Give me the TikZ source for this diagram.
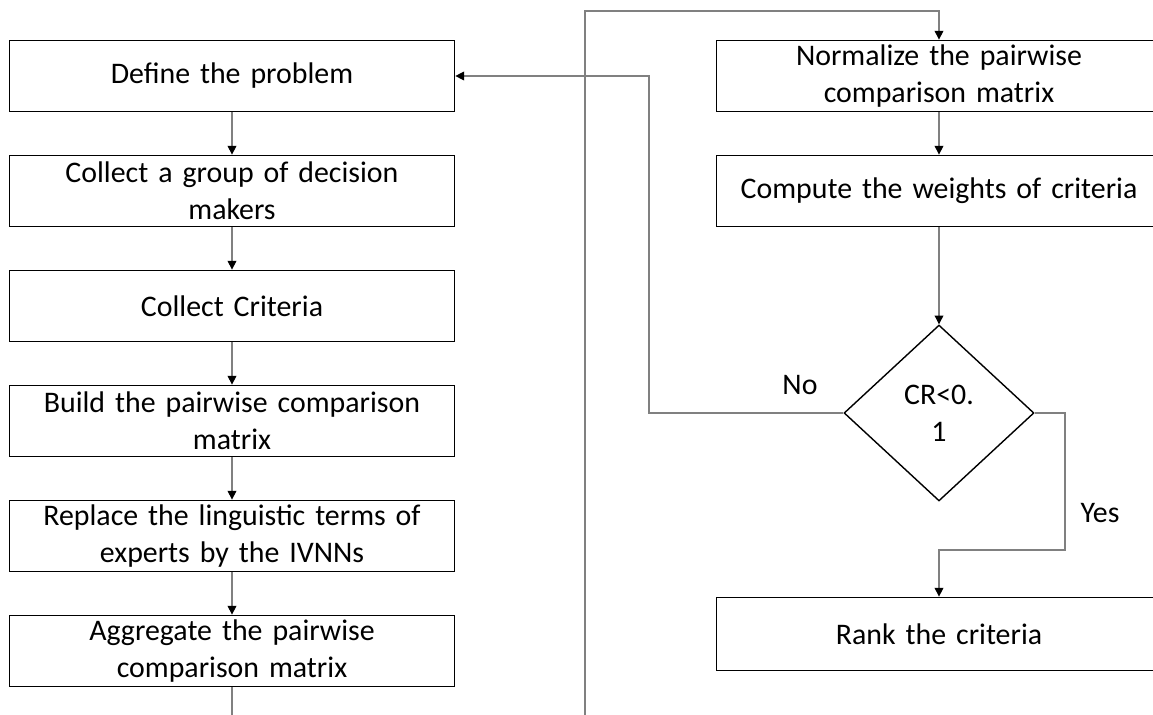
\documentclass[tikz,border=0pt]{standalone}
\usepackage{fontspec}
\setmainfont{Carlito}
\usepackage{tikz}
\usetikzlibrary{arrows.meta, positioning, shapes.geometric}
\definecolor{lnkgray}{RGB}{128,128,128}

\tikzset{
  stepbox/.style={draw=black, line width=1pt, minimum width=8.9cm, minimum height=1.42cm,
    text width=8.5cm, align=center, inner sep=0pt, font=\fontsize{17}{21}\selectfont},
  decbox/.style={draw=black, line width=0.8pt, diamond, aspect=1.08, minimum width=3.8cm,
    minimum height=3.52cm, inner sep=0pt, align=center, font=\fontsize{17}{21}\selectfont},
  link/.style={draw=lnkgray, line width=0.6pt},
  flow/.style={link, -{Triangle[color=black, length=5pt, width=5pt]}},
  tag/.style={font=\fontsize{17}{21}\selectfont}
}

\begin{document}
\begin{tikzpicture}[x=0.02cm, y=-0.02cm]
\clip (0,0) rectangle (1153,715);

% Left column
\node[stepbox] (def) at (232,76) {Define the problem};
\node[stepbox] (grp) at (232,191) {Collect a group of decision\\makers};
\node[stepbox] (crit) at (232,306) {Collect Criteria};
\node[stepbox] (build) at (232,421) {Build the pairwise comparison\\matrix};
\node[stepbox] (repl) at (232,536) {Replace the linguistic terms of\\experts by the IVNNs};
\node[stepbox] (aggr) at (232,651) {Aggregate the pairwise\\comparison matrix};

% Right column
\node[stepbox] (norm) at (939,76) {Normalize the pairwise\\comparison matrix};
\node[stepbox] (wts) at (939,191) {Compute the weights of criteria};
\node[decbox] (dec) at (939,413) {CR<0.\\1};
\node[stepbox, minimum height=1.46cm] (rank) at (939,634) {Rank the criteria};

% Helper points
\coordinate (lowL) at (232,715);
\coordinate (lowM) at (585,715);
\coordinate (topM) at (585,11);
\coordinate (back) at (649,76);
\coordinate (yesc) at (1065,550);

% Connectors
\draw[flow] (def) -- (grp);
\draw[flow] (grp) -- (crit);
\draw[flow] (crit) -- (build);
\draw[flow] (build) -- (repl);
\draw[flow] (repl) -- (aggr);
\draw[link] (aggr) -- (lowL);
\draw[flow] (lowM) -- (topM) -| (norm.north);
\draw[flow] (norm) -- (wts);
\draw[flow] (wts) -- (dec.north);
\draw[flow] (dec.west) -| (back) -- (def.east);
\draw[flow] (dec.east) -| (yesc) -| (rank.north);

% Labels
\node[tag] (nolbl) at (800,385) {No};
\node[tag] (yeslbl) at (1100,513) {Yes};
\end{tikzpicture}
\end{document}
